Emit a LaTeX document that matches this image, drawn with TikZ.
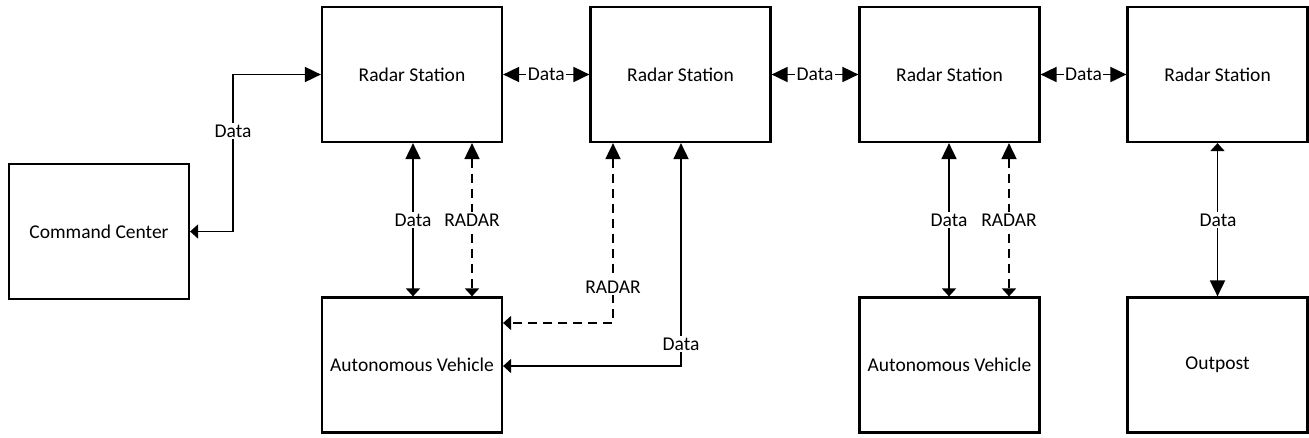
\documentclass[tikz,border=0pt]{standalone}
\usepackage{fontspec}
\setmainfont{Carlito}
\usetikzlibrary{arrows.meta}
\tikzset{
  x=1pt, y=-1pt,
  blk/.style={draw, line width=2.2pt, minimum width=180pt, minimum height=135pt, inner sep=0pt, font=\fontsize{19.5}{22}\selectfont, text=black},
  conn/.style={line width=1.8pt},
  dsh/.style={conn, dash pattern=on 9pt off 6pt},
  bb/.style={arrows={Triangle[length=16pt,width=15pt]-Triangle[length=16pt,width=15pt]}},
  bs/.style={arrows={Triangle[length=16pt,width=15pt]-Triangle[length=8pt,width=14pt]}},
  sb/.style={arrows={Triangle[length=8pt,width=14pt]-Triangle[length=16pt,width=15pt]}},
  lbl/.style={fill=white, inner sep=1.5pt, font=\fontsize{19.5}{22}\selectfont, text=black},
}
\begin{document}
\begin{tikzpicture}
\useasboundingbox (0,0) rectangle (1309,437);
\node[blk] (cc) at (99,231.5) {Command Center};
\node[blk] (r1) at (412,74.5) {Radar Station};
\node[blk] (r2) at (680.5,74.5) {Radar Station};
\node[blk] (r3) at (949.5,74.5) {Radar Station};
\node[blk] (r4) at (1217.5,74.5) {Radar Station};
\node[blk] (av1) at (412,365) {Autonomous Vehicle};
\node[blk] (av2) at (949.5,365) {Autonomous Vehicle};
\node[blk] (op) at (1217.5,365) {Outpost};
% command center - radar 1
\draw[conn, sb] (cc.east) -| (233,131) |- (r1.west);
\node[lbl] (lcc) at (233,131) {Data};
% horizontal radar links
\draw[conn, bb] (r1.east) -- node[lbl] (l12) {Data} (r2.west);
\draw[conn, bb] (r2.east) -- node[lbl] (l23) {Data} (r3.west);
\draw[conn, bb] (r3.east) -- node[lbl] (l34) {Data} (r4.west);
% radar 1 - AV1
\draw[conn, bs] (r1.south -| 413,0) -- (av1.north -| 413,0);
\node[lbl] (l1d) at (413,220) {Data};
\draw[dsh, bs] (r1.south -| 472,0) -- (av1.north -| 472,0);
\node[lbl] (l1r) at (472,220) {RADAR};
% radar 2 - AV1
\draw[dsh, bs] (r2.south -| 613,0) |- (av1.east |- 0,323);
\node[lbl] (l2r) at (613,287) {RADAR};
\draw[conn, bs] (r2.south -| 681,0) |- (av1.east |- 0,366);
\node[lbl] (l2d) at (681,344) {Data};
% radar 3 - AV2
\draw[conn, bs] (r3.south -| 949,0) -- (av2.north -| 949,0);
\node[lbl] (l3d) at (949,220) {Data};
\draw[dsh, bs] (r3.south -| 1009,0) -- (av2.north -| 1009,0);
\node[lbl] (l3r) at (1009,220) {RADAR};
% radar 4 - outpost
\draw[conn, sb] (r4.south) -- (op.north);
\node[lbl] (l4d) at (1218,220) {Data};
\end{tikzpicture}
\end{document}
